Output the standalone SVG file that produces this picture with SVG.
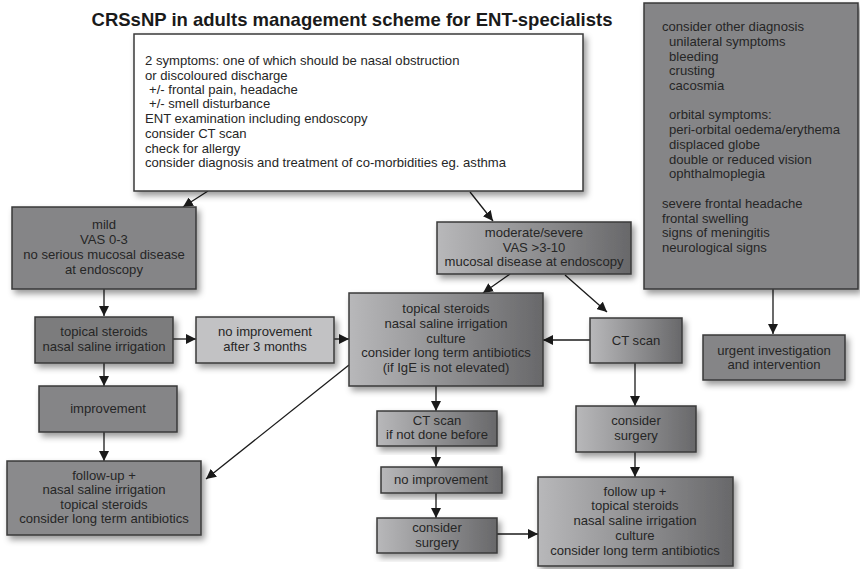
<svg xmlns="http://www.w3.org/2000/svg" width="860" height="569" viewBox="0 0 860 569">
<defs>
<linearGradient id="g" x1="0" y1="0" x2="1" y2="0">
<stop offset="0" stop-color="#b8b8ba"/>
<stop offset="1" stop-color="#68686a"/>
</linearGradient>
<filter id="sh" x="-10%" y="-10%" width="125%" height="135%">
<feDropShadow dx="3" dy="4" stdDeviation="3" flood-color="#000" flood-opacity="0.4"/>
</filter>
<marker id="ah" viewBox="0 0 10 10" refX="10" refY="5" markerWidth="10" markerHeight="10" markerUnits="userSpaceOnUse" orient="auto">
<path d="M0,0 L10,5 L0,10 z" fill="#1a1a1a"/>
</marker>
<style>
.b{stroke:#3a3a3a;stroke-width:1.5;filter:url(#sh)}
.gr{fill:url(#g)}
.un{fill:#858587}
.lt{fill:#c2c2c4}
.wh{fill:#ffffff}
text{font-family:"Liberation Sans",Arial,sans-serif;font-size:13.1px;fill:#262626}
.c{text-anchor:middle}
.t{font-size:18.5px;font-weight:bold;fill:#1a1a1a}
.cn line{stroke:#1a1a1a;stroke-width:1.3;marker-end:url(#ah)}
</style>
</defs>
<rect width="860" height="569" fill="#ffffff"/>
<text class="t c" x="352" y="26">CRSsNP in adults management scheme for ENT-specialists</text>

<g id="connectors" class="cn">
<line x1="208" y1="191" x2="183" y2="207"/>
<line x1="470" y1="192" x2="493" y2="221"/>
<line x1="104" y1="289" x2="104" y2="316"/>
<line x1="173" y1="339" x2="196" y2="339"/>
<line x1="334" y1="339" x2="349" y2="339"/>
<line x1="510" y1="274" x2="483" y2="293"/>
<line x1="565" y1="275" x2="607" y2="312"/>
<line x1="590" y1="340" x2="543" y2="340"/>
<line x1="773" y1="289" x2="773" y2="334"/>
<line x1="104" y1="363" x2="104" y2="386"/>
<line x1="104" y1="432" x2="104" y2="461"/>
<line x1="349" y1="365" x2="206" y2="479"/>
<line x1="436" y1="386" x2="436" y2="411"/>
<line x1="436" y1="446" x2="436" y2="467"/>
<line x1="436" y1="493" x2="436" y2="518"/>
<line x1="497" y1="534" x2="538" y2="534"/>
<line x1="635" y1="363" x2="635" y2="406"/>
<line x1="635" y1="452" x2="635" y2="477"/>
</g>

<g id="n_start">
<rect class="b wh" x="134" y="34" width="449" height="157"/>
<text x="145" y="65">2 symptoms: one of which should be nasal obstruction</text>
<text x="145" y="80">or discoloured discharge</text>
<text x="149" y="94">+/- frontal pain, headache</text>
<text x="149" y="108">+/- smell disturbance</text>
<text x="145" y="123">ENT examination including endoscopy</text>
<text x="145" y="138">consider CT scan</text>
<text x="145" y="153">check for allergy</text>
<text x="145" y="167">consider diagnosis and treatment of co-morbidities eg. asthma</text>
</g>

<g id="n_other">
<rect class="b un" x="644" y="3" width="214" height="286"/>
<text x="662" y="31">consider other diagnosis</text>
<text x="669" y="46">unilateral symptoms</text>
<text x="669" y="61">bleeding</text>
<text x="669" y="75">crusting</text>
<text x="669" y="90">cacosmia</text>
<text x="669" y="119">orbital symptoms:</text>
<text x="669" y="134">peri-orbital oedema/erythema</text>
<text x="669" y="149">displaced globe</text>
<text x="669" y="164">double or reduced vision</text>
<text x="669" y="178">ophthalmoplegia</text>
<text x="662" y="208">severe frontal headache</text>
<text x="662" y="223">frontal swelling</text>
<text x="662" y="237">signs of meningitis</text>
<text x="662" y="252">neurological signs</text>
</g>

<g id="n_urgent">
<rect class="b un" x="703" y="335" width="142" height="45"/>
<text class="c" x="774" y="355">urgent investigation</text>
<text class="c" x="774" y="369">and intervention</text>
</g>

<g id="n_mild">
<rect class="b un" x="12" y="207" width="184" height="82"/>
<text class="c" x="104" y="229">mild</text>
<text class="c" x="104" y="244">VAS 0-3</text>
<text class="c" x="104" y="259">no serious mucosal disease</text>
<text class="c" x="104" y="274">at endoscopy</text>
</g>

<g id="n_topical">
<rect class="b un" x="35" y="317" width="138" height="46" style="fill:#7b7b7d"/>
<text class="c" x="104" y="336">topical steroids</text>
<text class="c" x="104" y="351">nasal saline irrigation</text>
</g>

<g id="n_noimp3">
<rect class="b lt" x="196" y="317" width="138" height="46"/>
<text class="c" x="265" y="336">no improvement</text>
<text class="c" x="265" y="351">after 3 months</text>
</g>

<g id="n_improvement">
<rect class="b un" x="39" y="386" width="138" height="46"/>
<text class="c" x="108" y="413">improvement</text>
</g>

<g id="n_followup_left">
<rect class="b un" x="7" y="461" width="194" height="74" style="fill:#8a8a8c"/>
<text class="c" x="104" y="480">follow-up +</text>
<text class="c" x="104" y="494">nasal saline irrigation</text>
<text class="c" x="104" y="509">topical steroids</text>
<text class="c" x="104" y="523">consider long term antibiotics</text>
</g>

<g id="n_moderate">
<rect class="b gr" x="437" y="222" width="194" height="52"/>
<text class="c" x="534" y="237">moderate/severe</text>
<text class="c" x="534" y="252">VAS &gt;3-10</text>
<text class="c" x="534" y="266">mucosal disease at endoscopy</text>
</g>

<g id="n_middle">
<rect class="b gr" x="349" y="293" width="194" height="93"/>
<text class="c" x="446" y="313">topical steroids</text>
<text class="c" x="446" y="328">nasal saline irrigation</text>
<text class="c" x="446" y="343">culture</text>
<text class="c" x="446" y="357">consider long term antibiotics</text>
<text class="c" x="446" y="372">(if IgE is not elevated)</text>
</g>

<g id="n_ctscan">
<rect class="b gr" x="590" y="318" width="92" height="45"/>
<text class="c" x="636" y="345">CT scan</text>
</g>

<g id="n_ct_notdone">
<rect class="b gr" x="377" y="411" width="120" height="35"/>
<text class="c" x="437" y="425">CT scan</text>
<text class="c" x="437" y="439">if not done before</text>
</g>

<g id="n_noimp">
<rect class="b gr" x="381" y="467" width="121" height="26"/>
<text class="c" x="441" y="484">no improvement</text>
</g>

<g id="n_surgery_mid">
<rect class="b gr" x="377" y="518" width="120" height="35"/>
<text class="c" x="437" y="532">consider</text>
<text class="c" x="437" y="547">surgery</text>
</g>

<g id="n_surgery_right">
<rect class="b gr" x="576" y="406" width="120" height="46"/>
<text class="c" x="636" y="425">consider</text>
<text class="c" x="636" y="440">surgery</text>
</g>

<g id="n_followup_right">
<rect class="b gr" x="538" y="477" width="195" height="89"/>
<text class="c" x="635" y="496">follow up +</text>
<text class="c" x="635" y="510">topical steroids</text>
<text class="c" x="635" y="525">nasal saline irrigation</text>
<text class="c" x="635" y="540">culture</text>
<text class="c" x="635" y="555">consider long term antibiotics</text>
</g>
</svg>
